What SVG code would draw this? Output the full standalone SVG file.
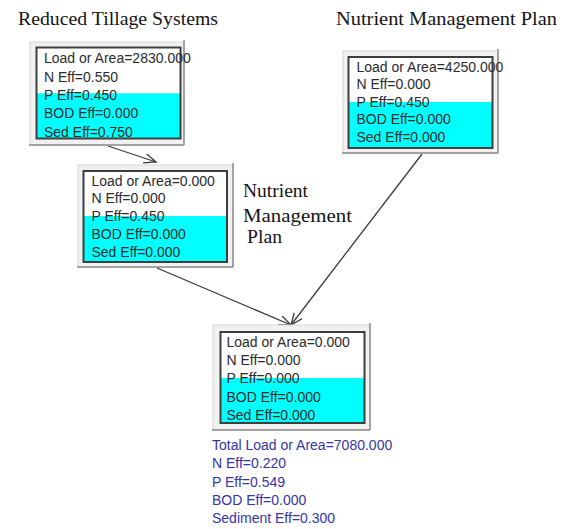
<svg xmlns="http://www.w3.org/2000/svg" width="571" height="529" viewBox="0 0 571 529">
  <defs>
    <style>
      .frame{fill:#f1f1f1;stroke:#d6d6d6;stroke-width:1}
      .edge{stroke:#8c8c8c;stroke-width:1.5;fill:none}
      .inner{fill:#ffffff}
      .border{fill:none;stroke:#3e3e3e;stroke-width:2}
      .band{fill:#00ffff}
      .t{font-family:"Liberation Sans",Arial,sans-serif;font-size:14px;fill:#2b2b2b}
      .title{font-family:"Liberation Serif","Times New Roman",serif;font-size:18px;fill:#141414}
      .sum{font-family:"Liberation Sans",Arial,sans-serif;font-size:14px;fill:#3535a5}
      .conn{stroke:#3a3a3a;stroke-width:1.3;fill:none;marker-end:url(#arr)}
    </style>
    <marker id="arr" markerUnits="userSpaceOnUse" markerWidth="14" markerHeight="12" refX="12" refY="5" orient="auto">
      <path d="M0,0 L12,5 L0,10" fill="none" stroke="#3a3a3a" stroke-width="1.3"/>
    </marker>
  </defs>

  <rect width="571" height="529" fill="#ffffff"/>

  <!-- headings -->
  <text class="title" x="18" y="25" textLength="200" lengthAdjust="spacingAndGlyphs">Reduced Tillage Systems</text>
  <text class="title" x="336" y="25" textLength="221" lengthAdjust="spacingAndGlyphs">Nutrient Management Plan</text>

  <!-- connectors -->
  <g id="connectors">
    <path class="conn" d="M108,146 L156,162"/>
    <path class="conn" d="M157,268 L291,325"/>
    <path class="conn" d="M422,154 L291,325"/>
  </g>

  <!-- reduced tillage BMP -->
  <g id="node-tillage">
    <rect class="frame" x="30" y="42" width="154" height="103"/>
    <path class="edge" d="M184,40 V145 M29,145 H184"/>
    <rect class="inner" x="36.5" y="47.5" width="144" height="91"/>
    <rect class="band" x="36.5" y="93.3" width="144" height="45.2"/>
    <rect class="border" x="36.5" y="47.5" width="144" height="91"/>
    <text class="t" x="44" y="63.3">Load or Area=2830.000</text>
    <text class="t" x="44" y="81.6">N Eff=0.550</text>
    <text class="t" x="44" y="99.9">P Eff=0.450</text>
    <text class="t" x="44" y="118.2">BOD Eff=0.000</text>
    <text class="t" x="44" y="136.5">Sed Eff=0.750</text>
  </g>

  <!-- nutrient management after tillage -->
  <g id="node-nmp-a">
    <rect class="frame" x="78" y="165" width="155" height="102"/>
    <path class="edge" d="M233,163 V267 M77,267 H233"/>
    <rect class="inner" x="83.5" y="171" width="143.5" height="91"/>
    <rect class="band" x="83.5" y="216" width="143.5" height="46"/>
    <rect class="border" x="83.5" y="171" width="143.5" height="91"/>
    <text class="t" x="91.5" y="185.5">Load or Area=0.000</text>
    <text class="t" x="91.5" y="203.4">N Eff=0.000</text>
    <text class="t" x="91.5" y="221.3">P Eff=0.450</text>
    <text class="t" x="91.5" y="239.2">BOD Eff=0.000</text>
    <text class="t" x="91.5" y="257.1">Sed Eff=0.000</text>
  </g>
  <g id="label-nmp-a">
    <text class="title" x="243" y="197.3" font-size="19" textLength="65" lengthAdjust="spacingAndGlyphs">Nutrient</text>
    <text class="title" x="243" y="221.7" font-size="19" textLength="109" lengthAdjust="spacingAndGlyphs">Management</text>
    <text class="title" x="247" y="243.3" font-size="19" textLength="35" lengthAdjust="spacingAndGlyphs">Plan</text>
  </g>

  <!-- nutrient management plan BMP -->
  <g id="node-nmp-b">
    <rect class="frame" x="343" y="51" width="155" height="102"/>
    <path class="edge" d="M498,49 V153 M342,153 H498"/>
    <rect class="inner" x="348.5" y="57" width="144" height="91"/>
    <rect class="band" x="348.5" y="102" width="144" height="46"/>
    <rect class="border" x="348.5" y="57" width="144" height="91"/>
    <text class="t" x="356.5" y="71.7">Load or Area=4250.000</text>
    <text class="t" x="356.5" y="89.2">N Eff=0.000</text>
    <text class="t" x="356.5" y="106.7">P Eff=0.450</text>
    <text class="t" x="356.5" y="124.2">BOD Eff=0.000</text>
    <text class="t" x="356.5" y="141.7">Sed Eff=0.000</text>
  </g>

  <!-- combined outlet -->
  <g id="node-outlet">
    <rect class="frame" x="213" y="325" width="157" height="105"/>
    <path class="edge" d="M370,323 V430 M212,430 H370"/>
    <rect class="inner" x="220.5" y="332" width="144" height="91"/>
    <rect class="band" x="220.5" y="378" width="144" height="45"/>
    <rect class="border" x="220.5" y="332" width="144" height="91"/>
    <text class="t" x="226.5" y="346.7">Load or Area=0.000</text>
    <text class="t" x="226.5" y="365">N Eff=0.000</text>
    <text class="t" x="226.5" y="383.3">P Eff=0.000</text>
    <text class="t" x="226.5" y="401.6">BOD Eff=0.000</text>
    <text class="t" x="226.5" y="419.9">Sed Eff=0.000</text>
  </g>

  <!-- totals -->
  <g id="totals">
    <text class="sum" x="212" y="450">Total Load or Area=7080.000</text>
    <text class="sum" x="212" y="468.3">N Eff=0.220</text>
    <text class="sum" x="212" y="486.6">P Eff=0.549</text>
    <text class="sum" x="212" y="504.9">BOD Eff=0.000</text>
    <text class="sum" x="212" y="523.2">Sediment Eff=0.300</text>
  </g>
</svg>
